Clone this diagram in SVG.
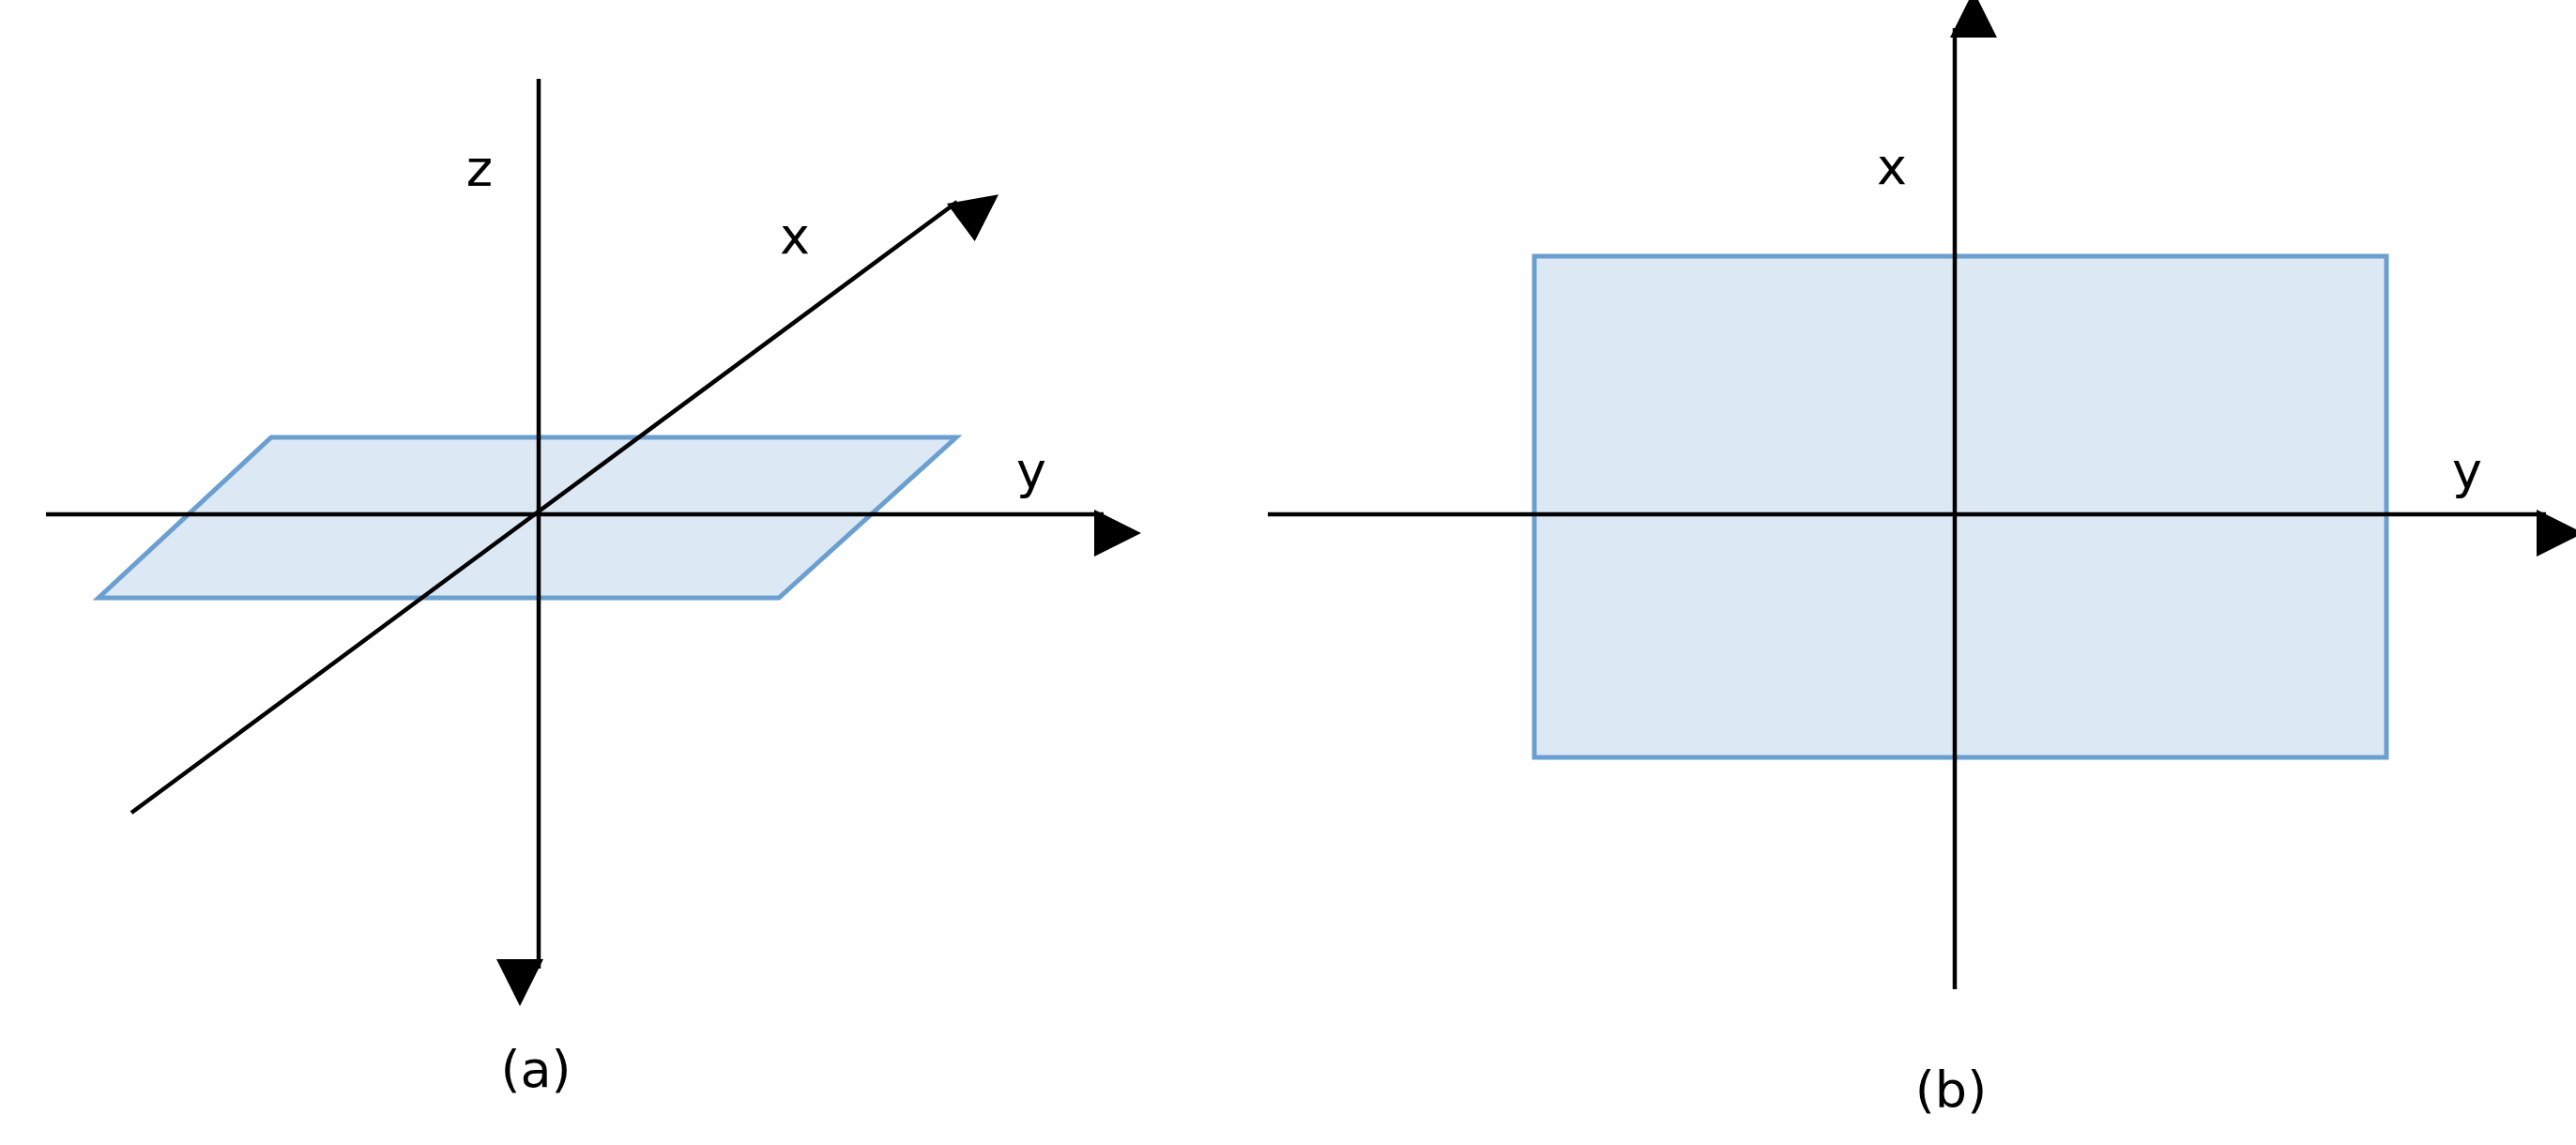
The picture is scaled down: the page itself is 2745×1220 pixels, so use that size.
<svg xmlns="http://www.w3.org/2000/svg" width="2745" height="1220" viewBox="0 0 2745 1220">
<style>
.ax{stroke:#000;stroke-width:4.5;fill:none}
.pl{fill:#dde8f5;stroke:#6a9fd0;stroke-width:5}
text{font-family:"DejaVu Sans",sans-serif;font-size:54px;fill:#000;text-anchor:middle}
</style>
<defs><marker id="ah" viewBox="0 0 10 10" refX="10" refY="5" markerWidth="10" markerHeight="10" markerUnits="userSpaceOnUse" orient="auto" style="overflow:visible"><path d="M0,0 L10,5 L0,10 Z" transform="scale(5)" fill="#000"/></marker></defs>
<rect width="2745" height="1220" fill="#fff"/>
<g id="plane-a"><polygon class="pl" points="289,466 1019,466 830,637 105,637"/></g>
<g id="plane-b"><rect class="pl" x="1635" y="273" width="908" height="534"/></g>
<g id="connectors">
<line class="ax" x1="574" y1="84" x2="574" y2="1032" marker-end="url(#ah)"/>
<line class="ax" x1="49" y1="548" x2="1176" y2="548" marker-end="url(#ah)"/>
<line class="ax" x1="140" y1="866" x2="1020" y2="215" marker-end="url(#ah)"/>
<line class="ax" x1="2083" y1="1054" x2="2083" y2="30" marker-end="url(#ah)"/>
<line class="ax" x1="1351" y1="548" x2="2713" y2="548" marker-end="url(#ah)"/>
</g>
<g id="labels">
<text x="511" y="198">z</text>
<text x="847" y="270">x</text>
<text x="1099" y="520">y</text>
<text x="571" y="1158">(a)</text>
<text x="2016" y="196">x</text>
<text x="2629" y="520">y</text>
<text x="2079" y="1180">(b)</text>
</g>
</svg>
